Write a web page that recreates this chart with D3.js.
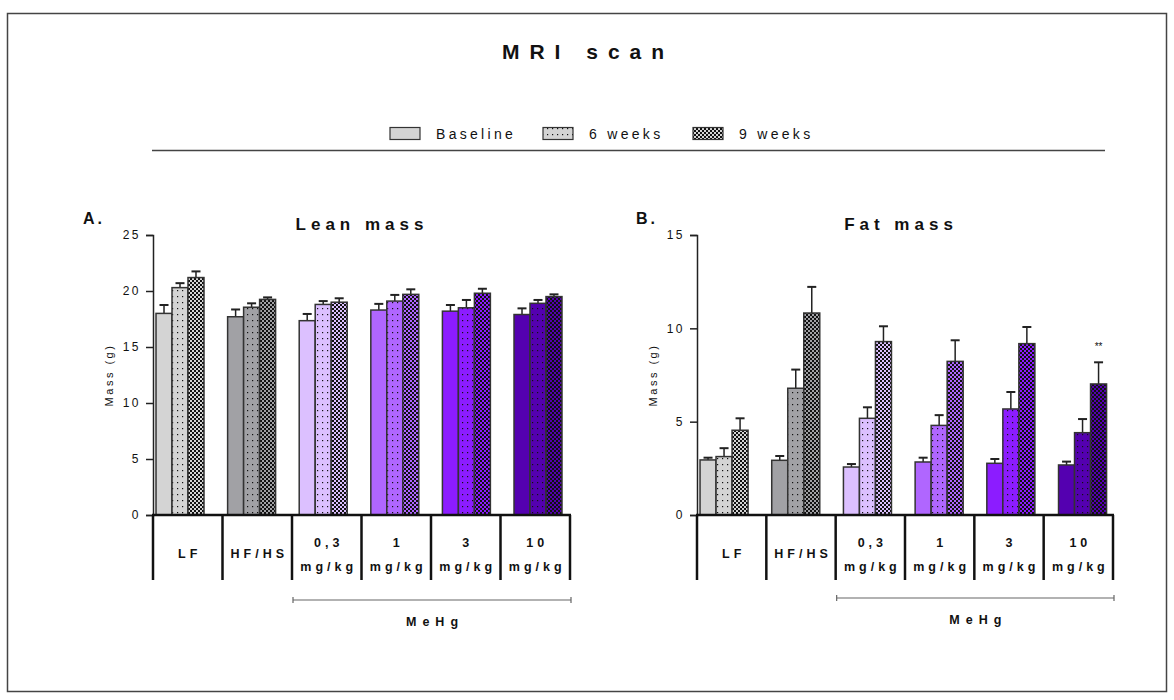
<!DOCTYPE html>
<html>
<head>
<meta charset="utf-8">
<script src="https://cdn.jsdelivr.net/npm/d3@7"></script>
<style>
  body { margin: 0; background: #fff; }
  text { font-family: "Liberation Sans", Arial, sans-serif; fill: #111; }
</style>
</head>
<body>
<div id="wrapper"></div>
<script>
// values
const groups = ["LF", "HF/HS", "0,3 mg/kg", "1 mg/kg", "3 mg/kg", "10 mg/kg"];
const timepoints = ["Baseline", "6 weeks", "9 weeks"];
const groupColors = ["#d4d4d4", "#a1a1a5", "#dcc0ff", "#b066ff", "#8c1cff", "#5400b0"];

const leanMean = [[18.0, 20.3, 21.2], [17.7, 18.55, 19.25], [17.35, 18.8, 19.0],
                  [18.3, 19.1, 19.7], [18.2, 18.5, 19.8], [17.9, 18.9, 19.5]];
const leanSem = [[0.75, 0.4, 0.55], [0.65, 0.35, 0.18], [0.6, 0.3, 0.35],
                 [0.55, 0.55, 0.45], [0.55, 0.7, 0.4], [0.55, 0.3, 0.2]];
const leanTicks = [0, 5, 10, 15, 20, 25];

const fatMean = [[2.95, 3.13, 4.54], [2.93, 6.79, 10.82], [2.57, 5.18, 9.29],
                 [2.84, 4.8, 8.23], [2.77, 5.68, 9.18], [2.68, 4.41, 7.02]];
const fatSem = [[0.12, 0.45, 0.64], [0.23, 1.0, 1.4], [0.16, 0.59, 0.82],
                [0.23, 0.55, 1.13], [0.23, 0.91, 0.89], [0.18, 0.73, 1.16]];
const fatTicks = [0, 5, 10, 15];
const fatStars = ["", "", "", "", "", "**"];

const width = 1174, height = 700;

const svg = d3.select("#wrapper").append("svg")
    .attr("width", width)
    .attr("height", height);

// patterns: plain, dots (6 weeks), checker (9 weeks) for each colour
const defs = svg.append("defs");
groupColors.forEach((c, i) => {
    const dots = defs.append("pattern")
        .attr("id", "dots" + i)
        .attr("patternUnits", "userSpaceOnUse")
        .attr("width", 5).attr("height", 6);
    dots.append("rect").attr("width", 5).attr("height", 6).attr("fill", c);
    dots.append("rect").attr("x", 2).attr("y", 2).attr("width", 1.2).attr("height", 1.2).attr("fill", "#111");

    const chk = defs.append("pattern")
        .attr("id", "chk" + i)
        .attr("patternUnits", "userSpaceOnUse")
        .attr("width", 4).attr("height", 4);
    chk.append("rect").attr("width", 4).attr("height", 4).attr("fill", c);
    chk.append("rect").attr("width", 2).attr("height", 2).attr("fill", "#111");
    chk.append("rect").attr("x", 2).attr("y", 2).attr("width", 2).attr("height", 2).attr("fill", "#111");
});

function fillFor(g, t) {
    if (t === 0) return groupColors[g];
    if (t === 1) return "url(#dots" + g + ")";
    return "url(#chk" + g + ")";
}

// outer frame
svg.append("rect")
    .attr("x", 7.5).attr("y", 13.5)
    .attr("width", 1159).attr("height", 678)
    .attr("fill", "none")
    .attr("stroke", "#444")
    .attr("stroke-width", 1.5);

// title
svg.append("text")
    .attr("x", 588).attr("y", 59)
    .attr("text-anchor", "middle")
    .style("font-size", "21px")
    .style("font-weight", "bold")
    .style("letter-spacing", "10px")
    .text("MRI scan");

// legend
const legendX = [390, 543, 693];
const legend = svg.append("g");
timepoints.forEach((t, i) => {
    legend.append("rect")
        .attr("x", legendX[i]).attr("y", 127.5)
        .attr("width", 30).attr("height", 12)
        .attr("fill", fillFor(0, i))
        .attr("stroke", "#333")
        .attr("stroke-width", 1.2);
    legend.append("text")
        .attr("x", legendX[i] + 46).attr("y", 139)
        .style("font-size", "14px")
        .style("letter-spacing", "3.3px")
        .text(t);
});
svg.append("line")
    .attr("x1", 152).attr("x2", 1105)
    .attr("y1", 150.5).attr("y2", 150.5)
    .attr("stroke", "#444").attr("stroke-width", 1.5);

function drawPanel(p) {
    const g = svg.append("g");
    const yTop = 235, yBot = 515;

    const y = d3.scaleLinear().domain([0, p.ticks[p.ticks.length - 1]]).range([yBot, yTop]);
    const x0 = d3.scaleBand().domain(groups).range(p.barRange).paddingInner(0.33).paddingOuter(0.165);
    const x1 = d3.scaleBand().domain([0, 1, 2]).range([0, x0.bandwidth()]);
    const xSep = d3.scaleBand().domain(groups).range([p.axisX, p.sepEnd]);

    // bars
    const bars = [];
    p.mean.forEach((row, gi) => row.forEach((v, ti) => bars.push({gi, ti, v, e: p.sem[gi][ti]})));

    const barG = g.append("g");
    barG.selectAll("line.err")
        .data(bars)
        .enter().append("line")
        .attr("x1", d => x0(groups[d.gi]) + x1(d.ti) + x1.bandwidth() / 2)
        .attr("x2", d => x0(groups[d.gi]) + x1(d.ti) + x1.bandwidth() / 2)
        .attr("y1", d => y(d.v))
        .attr("y2", d => y(d.v + d.e))
        .attr("stroke", "#222").attr("stroke-width", 1.5);
    barG.selectAll("line.cap")
        .data(bars)
        .enter().append("line")
        .attr("x1", d => x0(groups[d.gi]) + x1(d.ti) + x1.bandwidth() / 2 - 4.5)
        .attr("x2", d => x0(groups[d.gi]) + x1(d.ti) + x1.bandwidth() / 2 + 4.5)
        .attr("y1", d => y(d.v + d.e))
        .attr("y2", d => y(d.v + d.e))
        .attr("stroke", "#222").attr("stroke-width", 2);
    barG.selectAll("rect")
        .data(bars)
        .enter().append("rect")
        .attr("x", d => x0(groups[d.gi]) + x1(d.ti))
        .attr("y", d => y(d.v))
        .attr("width", x1.bandwidth())
        .attr("height", d => y(0) - y(d.v))
        .attr("fill", d => fillFor(d.gi, d.ti))
        .attr("stroke", "#333")
        .attr("stroke-width", 1.5);

    if (p.stars) {
        barG.selectAll("text.star")
            .data(p.stars.map((s, gi) => ({s, gi, top: p.mean[gi][2] + p.sem[gi][2]})))
            .enter().append("text")
            .attr("x", d => x0(groups[d.gi]) + x1(2) + x1.bandwidth() / 2)
            .attr("y", d => y(d.top) - 12)
            .attr("text-anchor", "middle")
            .style("font-size", "10px")
            .text(d => d.s);
    }

    // y axis
    const yAxis = g.append("g")
        .attr("transform", `translate(${p.axisX},0)`)
        .call(d3.axisLeft(y).tickValues(p.ticks).tickSize(7).tickPadding(5));
    yAxis.select(".domain").attr("stroke", "#222").attr("stroke-width", 1.5);
    yAxis.selectAll(".tick line").attr("stroke", "#222").attr("stroke-width", 1.5);
    yAxis.selectAll(".tick text")
        .style("font-family", "'Liberation Sans', Arial, sans-serif")
        .style("font-size", "12px")
        .style("letter-spacing", "2.5px")
        .attr("fill", "#222");

    // category axis with separators
    g.append("line")
        .attr("x1", p.axisX - 1).attr("x2", p.sepEnd + 1)
        .attr("y1", yBot).attr("y2", yBot)
        .attr("stroke", "#111").attr("stroke-width", 2.5);
    const seps = groups.map(d => xSep(d)).concat([p.sepEnd]);
    g.selectAll("line.sep")
        .data(seps)
        .enter().append("line")
        .attr("x1", d => d).attr("x2", d => d)
        .attr("y1", yBot).attr("y2", 580)
        .attr("stroke", "#111").attr("stroke-width", 2.5);

    const labels = g.selectAll("text.cat")
        .data(groups)
        .enter().append("text")
        .attr("text-anchor", "middle")
        .style("font-size", "12.5px")
        .style("font-weight", "bold")
        .style("letter-spacing", "4px");
    labels.each(function (d) {
        const parts = d.split(" ");
        const cx = xSep(d) + xSep.bandwidth() / 2 + 2;
        const t = d3.select(this);
        if (parts.length === 1) {
            t.append("tspan").attr("x", cx).attr("y", 558).text(d);
        } else {
            t.append("tspan").attr("x", cx).attr("y", 547).text(parts[0]);
            t.append("tspan").attr("x", cx).attr("y", 571).text(parts[1]);
        }
    });

    // MeHg bracket
    const b0 = xSep(groups[2]) + 1, b1 = p.sepEnd + 1;
    g.append("path")
        .attr("d", `M${b0},${p.bracketY - 3}V${p.bracketY + 3}M${b0},${p.bracketY}H${b1}M${b1},${p.bracketY - 3}V${p.bracketY + 3}`)
        .attr("fill", "none")
        .attr("stroke", "#666").attr("stroke-width", 1.2);
    g.append("text")
        .attr("x", (b0 + b1) / 2 + 3).attr("y", p.bracketY + 26)
        .attr("text-anchor", "middle")
        .style("font-size", "12.5px")
        .style("font-weight", "bold")
        .style("letter-spacing", "6px")
        .text("MeHg");

    // y label
    g.append("text")
        .attr("transform", `translate(${p.axisX - 40},375) rotate(-90)`)
        .attr("text-anchor", "middle")
        .style("font-size", "11px")
        .style("letter-spacing", "2.5px")
        .text("Mass (g)");

    // panel title and letter
    g.append("text")
        .attr("x", p.titleX).attr("y", 230)
        .attr("text-anchor", "middle")
        .style("font-size", "17px")
        .style("font-weight", "bold")
        .style("letter-spacing", "5px")
        .text(p.title);
    g.append("text")
        .attr("x", p.letterX).attr("y", 224)
        .style("font-size", "16px")
        .style("font-weight", "bold")
        .style("letter-spacing", "3px")
        .text(p.letter);
}

drawPanel({
    mean: leanMean, sem: leanSem, ticks: leanTicks,
    axisX: 153, sepEnd: 570, barRange: [144.2, 573.8],
    bracketY: 600, title: "Lean mass", titleX: 362, letter: "A.", letterX: 83
});
drawPanel({
    mean: fatMean, sem: fatSem, ticks: fatTicks, stars: fatStars,
    axisX: 697, sepEnd: 1113, barRange: [688.2, 1118.4],
    bracketY: 598, title: "Fat mass", titleX: 901, letter: "B.", letterX: 636
});
</script>
</body>
</html>
